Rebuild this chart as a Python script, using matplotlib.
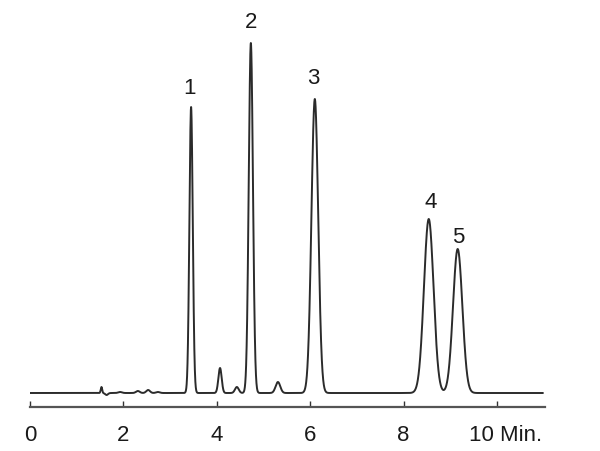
import numpy as np
import matplotlib
matplotlib.use("Agg")
import matplotlib.pyplot as plt
import matplotlib.transforms as mtransforms

plt.rcParams['font.family'] = ['Liberation Sans', 'DejaVu Sans']

# Peak table (retention time in min, height in px-units, width sigma in min)
peak_labels = ["1", "2", "3", "4", "5"]
peak_times = [3.45, 4.73, 6.10, 8.54, 9.16]
peak_heights = [286, 350, 294, 174, 144]
peak_sigmas = [0.036, 0.045, 0.072, 0.103, 0.100]

# Minor peaks / baseline noise
minor_times = [1.53, 1.64, 1.93, 2.31, 2.53, 2.74, 4.07, 4.43, 5.31]
minor_heights = [6, -2, 1, 2, 3, 1, 25, 6, 11]
minor_sigmas = [0.015, 0.03, 0.04, 0.04, 0.04, 0.04, 0.035, 0.04, 0.05]

xticks = [0, 2, 4, 6, 8, 10]
xtick_labels = ["0", "2", "4", "6", "8", "10 Min."]

t = np.linspace(0, 10.98, 6000)
signal = np.zeros_like(t)
for mu, h, s in zip(peak_times + minor_times, peak_heights + minor_heights,
                    peak_sigmas + minor_sigmas):
    signal += h * np.exp(-0.5 * ((t - mu) / s) ** 2)

fig = plt.figure(figsize=(6.0, 4.51), dpi=100)
ax = fig.add_axes([30 / 600, 44 / 451, 515 / 600, 397 / 451])
ax.plot(t, signal, color='#2b2b2b', lw=1.4)

ax.set_xlim(0, 11.03)
ax.set_ylim(-14, 383)

for sp in ['top', 'right', 'left']:
    ax.spines[sp].set_visible(False)
ax.spines['bottom'].set_color('#555555')
ax.spines['bottom'].set_linewidth(1.6)
ax.set_yticks([])
ax.set_xticks(xticks)
ax.set_xticklabels(xtick_labels)
ax.tick_params(axis='x', direction='in', length=4, width=1.0, color='#333333',
               labelsize=16, pad=13, labelcolor='#1a1a1a')
last = ax.get_xticklabels()[-1]
last.set_transform(last.get_transform() +
                   mtransforms.ScaledTranslation(0.09, 0, fig.dpi_scale_trans))

label_dx = [-1.5, 0.5, -1, 1.5, 0.5]
label_dy = [6, 7, 7, 4, 1]
for lab, mu, h, dx, dy in zip(peak_labels, peak_times, peak_heights, label_dx, label_dy):
    ax.annotate(lab, xy=(mu, h), xytext=(dx, dy), textcoords='offset points',
                ha='center', va='bottom', fontsize=16, color='#1a1a1a',
                annotation_clip=False)

fig.savefig('out.png', dpi=100)
